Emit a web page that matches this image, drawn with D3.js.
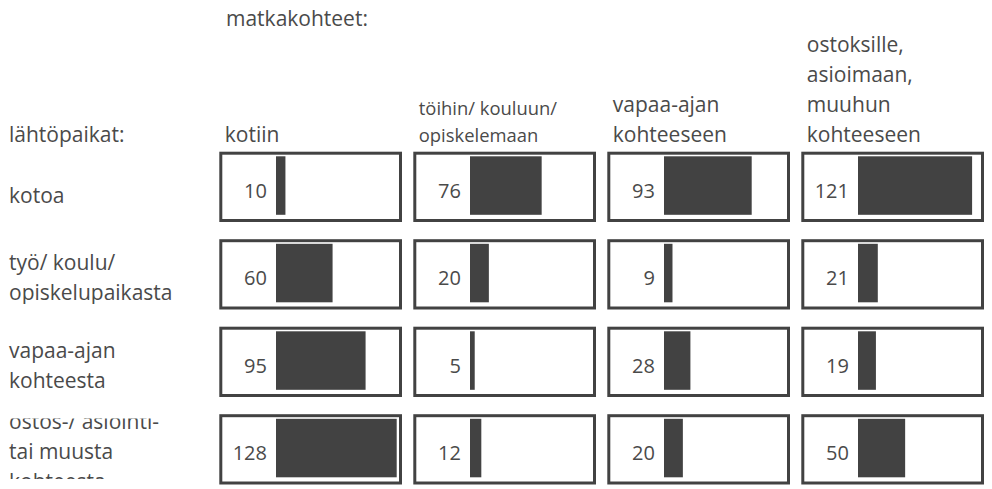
<!DOCTYPE html>
<html><head><meta charset="utf-8">
<script src="https://cdn.jsdelivr.net/npm/d3@7"></script>
<style>
html,body{margin:0;padding:0;background:#fff;}
svg{display:block;}
text{font-family:"Open Sans",sans-serif;fill:#4a4a4a;}
</style></head><body>
<svg id="chart" width="992" height="489"></svg>
<script>
// Trip destinations (columns) and origins (rows); each label is split into its lines
const destinations = [
  ["kotiin"],
  ["töihin/ kouluun/", "opiskelemaan"],
  ["vapaa-ajan", "kohteeseen"],
  ["ostoksille,", "asioimaan,", "muuhun", "kohteeseen"]
];
const origins = [
  ["kotoa"],
  ["työ/ koulu/", "opiskelupaikasta"],
  ["vapaa-ajan", "kohteesta"],
  ["ostos-/ asiointi-", "tai muusta", "kohteesta"]
];
// Trip counts per origin, in destination order
const fromHome     = [10, 76, 93, 121];
const fromWork     = [60, 20, 9, 21];
const fromLeisure  = [95, 5, 28, 19];
const fromErrands  = [128, 12, 20, 50];
const destTitle = "matkakohteet:";
const originTitle = "lähtöpaikat:";

const matrix = [fromHome, fromWork, fromLeisure, fromErrands];
const cells = [];
matrix.forEach((row, r) => row.forEach((v, c) => cells.push({r, c, v})));

const svg = d3.select("#chart");
const ink = "#424242";

// grid layout: fixed column/row pitch, boxes start at the left/top of each band
const colStep = 194, rowStep = 87.5;
const colGap = 11.3 / colStep, rowGap = 17.2 / rowStep;
const x = d3.scaleBand().domain(d3.range(destinations.length))
  .range([219.3, 219.3 + destinations.length * colStep])
  .paddingInner(colGap).paddingOuter(colGap / 2).align(0);
const y = d3.scaleBand().domain(d3.range(origins.length))
  .range([151.7, 151.7 + origins.length * rowStep])
  .paddingInner(rowGap).paddingOuter(rowGap / 2).align(0);

const barOffset = 56.7, barTop = 4.6, barBottom = 7.2;
const w = d3.scaleLinear().domain([0, d3.max(cells, d => d.v)]).range([0, 120.7]);

// titles
svg.append("text").attr("x", 226).attr("y", 26).style("font-size", "21px").text(destTitle);
svg.append("text").attr("x", 9).attr("y", 141.7).style("font-size", "21px").text(originTitle);

// column headers, bottom-aligned above the boxes
const headerSize = c => (c === 1 ? 18.4 : 21);
const headerLead = c => (c === 1 ? 26.7 : 30);
svg.append("g").selectAll("text").data(destinations).join("text")
  .attr("x", (d, c) => x(c) + 5.5)
  .style("font-size", (d, c) => headerSize(c) + "px")
  .each(function (lines, c) {
    d3.select(this).selectAll("tspan").data(lines).join("tspan")
      .attr("x", x(c) + 5.5)
      .attr("y", (s, i) => 141.7 - (lines.length - 1 - i) * headerLead(c))
      .text(s => s);
  });

// row headers, clipped to the height of their row's bar band
const defs = svg.append("defs");
origins.forEach((lines, r) => {
  defs.append("clipPath").attr("id", "rowclip" + r)
    .append("rect").attr("x", 0).attr("y", y(r) + 4.2).attr("width", 215).attr("height", 60.5);
});
svg.append("g").selectAll("text").data(origins).join("text")
  .attr("clip-path", (d, r) => `url(#rowclip${r})`)
  .style("font-size", "21px")
  .each(function (lines, r) {
    const n = lines.length;
    d3.select(this).selectAll("tspan").data(lines).join("tspan")
      .attr("x", 9)
      .attr("y", (s, i) => y(r) + 41 + 10 / n + 30 * (i - (n - 1) / 2))
      .text(s => s);
  });

// boxes, bars and value labels
const g = svg.append("g").selectAll("g").data(cells).join("g")
  .attr("transform", d => `translate(${x(d.c)},${y(d.r)})`);

g.append("rect")
  .attr("x", 1.5).attr("y", 1.5)
  .attr("width", x.bandwidth() - 3).attr("height", y.bandwidth() - 3)
  .attr("fill", "none").attr("stroke", ink).attr("stroke-width", 3);

g.append("rect")
  .attr("x", barOffset).attr("y", barTop)
  .attr("width", d => w(d.v)).attr("height", y.bandwidth() - barTop - barBottom)
  .attr("fill", ink);

g.append("text")
  .attr("x", barOffset - 9).attr("y", 46)
  .attr("text-anchor", "end")
  .style("font-size", "20px")
  .text(d => d.v);
</script></body></html>
